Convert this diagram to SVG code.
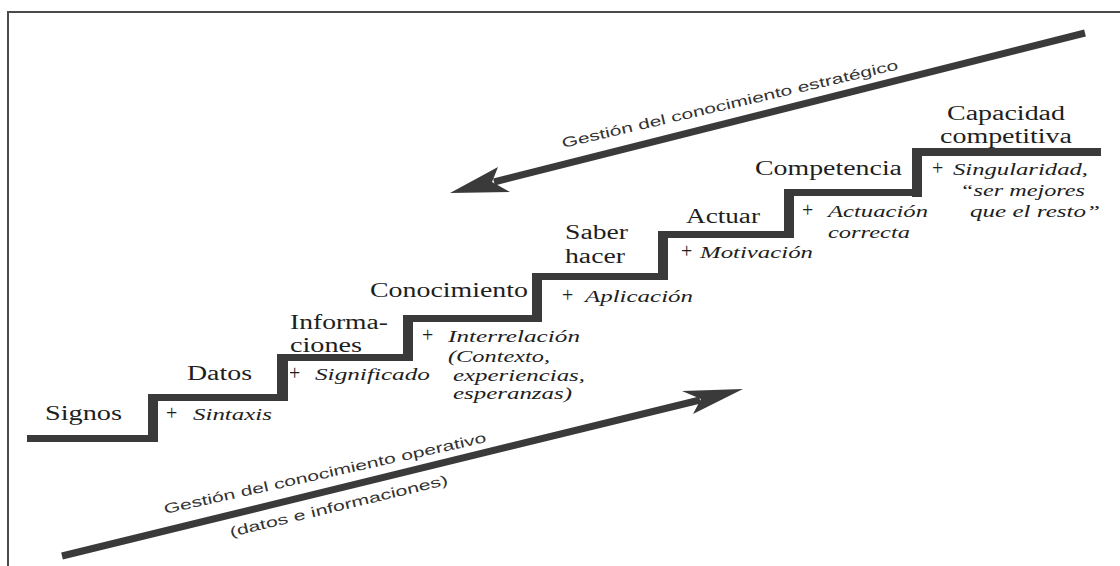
<svg xmlns="http://www.w3.org/2000/svg" width="1120" height="566" viewBox="0 0 1120 566">
<style>
.frame{fill:none;stroke:#4a4a4a;stroke-width:2}
.bar{fill:#3a3a3a}
.shaft{stroke:#3a3a3a;stroke-width:7;fill:none}
.head{fill:#3a3a3a}
.lbl{font-family:'Liberation Serif','DejaVu Serif','Times New Roman',serif;font-size:20px;fill:#1e1e1e}
.it{font-family:'Liberation Serif','DejaVu Serif','Times New Roman',serif;font-style:italic;font-size:17px;fill:#1e1e1e}
.plus{font-family:'Liberation Serif','DejaVu Serif','Times New Roman',serif;font-size:20px;fill:#1e1e1e}
.sans{font-family:'Liberation Sans',Arial,sans-serif;font-size:14px;fill:#333}
</style>
<rect width="1120" height="566" fill="#fff"/>
<path class="frame" d="M8,566 V12 H1120"/>

<g id="stairs">
<rect class="bar" x="27" y="435" width="131" height="7"/>
<rect class="bar" x="148" y="394" width="10" height="48"/>
<rect class="bar" x="148" y="394" width="140" height="7"/>
<rect class="bar" x="277" y="354" width="11" height="47"/>
<rect class="bar" x="277" y="354" width="136" height="7"/>
<rect class="bar" x="403" y="315" width="10" height="46"/>
<rect class="bar" x="403" y="315" width="139" height="7"/>
<rect class="bar" x="532" y="273" width="10" height="49"/>
<rect class="bar" x="532" y="273" width="136" height="7"/>
<rect class="bar" x="658" y="232" width="10" height="48"/>
<rect class="bar" x="658" y="231" width="135" height="7"/>
<rect class="bar" x="784" y="189" width="10" height="49"/>
<rect class="bar" x="784" y="189" width="138" height="7"/>
<rect class="bar" x="912" y="148" width="10" height="49"/>
<rect class="bar" x="912" y="148" width="189" height="8"/>
</g>

<g id="connectors">
<line class="shaft" x1="1085" y1="33" x2="494" y2="182"/>
<polygon class="head" points="450,193 498,167 492,182 510,192"/>
<line class="shaft" x1="62" y1="556" x2="700" y2="400"/>
<polygon class="head" points="743,389 682,391 701,399 693,414"/>
</g>

<g id="label-strategic">
<text class="sans" transform="translate(563,148) rotate(-13.2)" textLength="345" lengthAdjust="spacingAndGlyphs">Gestión del conocimiento estratégico</text>
</g>
<g id="label-operative">
<text class="sans" transform="translate(165,514) rotate(-12.6)" textLength="330" lengthAdjust="spacingAndGlyphs">Gestión del conocimiento operativo</text>
<text class="sans" transform="translate(231,537) rotate(-13.6)" textLength="224" lengthAdjust="spacingAndGlyphs">(datos e informaciones)</text>
</g>

<g id="step-signos">
<text class="lbl" x="45" y="420" textLength="77" lengthAdjust="spacingAndGlyphs">Signos</text>
</g>
<g id="step-datos">
<text class="lbl" x="187" y="380" textLength="65" lengthAdjust="spacingAndGlyphs">Datos</text>
<text class="plus" x="166" y="420">+</text>
<text class="it" x="193" y="420" textLength="79" lengthAdjust="spacingAndGlyphs">Sintaxis</text>
</g>
<g id="step-informaciones">
<text class="lbl" x="290" y="329" textLength="98" lengthAdjust="spacingAndGlyphs">Informa-</text>
<text class="lbl" x="290" y="352" textLength="72" lengthAdjust="spacingAndGlyphs">ciones</text>
<text class="plus" x="289" y="380">+</text>
<text class="it" x="315" y="380" textLength="115" lengthAdjust="spacingAndGlyphs">Significado</text>
</g>
<g id="step-conocimiento">
<text class="lbl" x="370" y="297" textLength="158" lengthAdjust="spacingAndGlyphs">Conocimiento</text>
<text class="plus" x="422" y="342">+</text>
<text class="it" x="448" y="342" textLength="132" lengthAdjust="spacingAndGlyphs">Interrelación</text>
<text class="it" x="448" y="362" textLength="102" lengthAdjust="spacingAndGlyphs">(Contexto,</text>
<text class="it" x="453" y="381" textLength="132" lengthAdjust="spacingAndGlyphs">experiencias,</text>
<text class="it" x="453" y="399" textLength="119" lengthAdjust="spacingAndGlyphs">esperanzas)</text>
</g>
<g id="step-saber-hacer">
<text class="lbl" x="565" y="239" textLength="63" lengthAdjust="spacingAndGlyphs">Saber</text>
<text class="lbl" x="565" y="263" textLength="60" lengthAdjust="spacingAndGlyphs">hacer</text>
<text class="plus" x="562" y="302">+</text>
<text class="it" x="585" y="302" textLength="108" lengthAdjust="spacingAndGlyphs">Aplicación</text>
</g>
<g id="step-actuar">
<text class="lbl" x="686" y="223" textLength="74" lengthAdjust="spacingAndGlyphs">Actuar</text>
<text class="plus" x="681" y="258">+</text>
<text class="it" x="700" y="258" textLength="113" lengthAdjust="spacingAndGlyphs">Motivación</text>
</g>
<g id="step-competencia">
<text class="lbl" x="755" y="175" textLength="147" lengthAdjust="spacingAndGlyphs">Competencia</text>
<text class="plus" x="802" y="217">+</text>
<text class="it" x="828" y="217" textLength="100" lengthAdjust="spacingAndGlyphs">Actuación</text>
<text class="it" x="828" y="238" textLength="82" lengthAdjust="spacingAndGlyphs">correcta</text>
</g>
<g id="step-capacidad">
<text class="lbl" x="947" y="120" textLength="118" lengthAdjust="spacingAndGlyphs">Capacidad</text>
<text class="lbl" x="940" y="143" textLength="132" lengthAdjust="spacingAndGlyphs">competitiva</text>
<text class="plus" x="932" y="175">+</text>
<text class="it" x="953" y="175" textLength="135" lengthAdjust="spacingAndGlyphs">Singularidad,</text>
<text class="it" x="960" y="196" textLength="125" lengthAdjust="spacingAndGlyphs">“ser mejores</text>
<text class="it" x="970" y="217" textLength="130" lengthAdjust="spacingAndGlyphs">que el resto”</text>
</g>
</svg>
